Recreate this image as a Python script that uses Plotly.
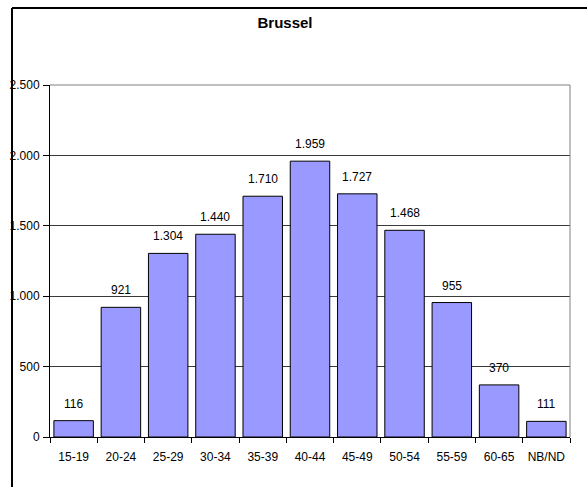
import plotly.graph_objects as go

categories = ["15-19", "20-24", "25-29", "30-34", "35-39", "40-44", "45-49", "50-54", "55-59", "60-65", "NB/ND"]
values = [116, 921, 1304, 1440, 1710, 1959, 1727, 1468, 955, 370, 111]
ytick_vals = [0, 500, 1000, 1500, 2000, 2500]
ytick_text = ["0", "500", "1.000", "1.500", "2.000", "2.500"]
title_text = "Brussel"


def fmt(v):
    return f"{v:,}".replace(",", ".")


FONT = "Liberation Sans, Arial, sans-serif"

fig = go.Figure()
fig.add_trace(go.Bar(
    x=categories,
    y=values,
    marker=dict(color="#9999FF", line=dict(color="#000000", width=1)),
    hoverinfo="x+y",
))

annotations = []
for c, v in zip(categories, values):
    annotations.append(dict(
        x=c, y=v, xref="x", yref="y", text=fmt(v), showarrow=False,
        yanchor="bottom", yshift=8, font=dict(family=FONT, size=12, color="#000"),
    ))

fig.update_layout(
    width=587, height=487,
    margin=dict(l=50, r=17, t=85, b=50),
    paper_bgcolor="white", plot_bgcolor="white",
    bargap=0.165,
    showlegend=False,
    font=dict(family=FONT, size=12, color="#000"),
    title=dict(text="<b>" + title_text + "</b>", x=285 / 587, xanchor="center",
               y=1 - 23 / 487, yanchor="middle", xref="container", yref="container",
               font=dict(family=FONT, size=15, color="#000")),
    annotations=annotations,
    xaxis=dict(
        showline=True, linecolor="#000", linewidth=1,
        ticks="outside", tickson="boundaries", ticklen=5, tickcolor="#000",
        ticklabelstandoff=9, tickangle=0, automargin=False,
        showgrid=False, tickfont=dict(family=FONT, size=12, color="#000"),
        fixedrange=True,
    ),
    yaxis=dict(
        range=[0, 2500], tickvals=ytick_vals, ticktext=ytick_text,
        showline=True, linecolor="#000", linewidth=1,
        ticks="outside", ticklen=6, tickcolor="#000",
        ticklabelstandoff=1, automargin=False,
        showgrid=True, gridcolor="#3a3a3a", gridwidth=1,
        zeroline=False, tickfont=dict(family=FONT, size=12, color="#000"),
        fixedrange=True,
    ),
    shapes=[
        # plot-area top and right borders (gray)
        dict(type="line", xref="paper", yref="paper", x0=0, x1=1, y0=1, y1=1,
             line=dict(color="#808080", width=1), layer="above"),
        dict(type="line", xref="paper", yref="paper", x0=1, x1=1, y0=0, y1=1,
             line=dict(color="#808080", width=1), layer="above"),
        # outer chart frame (top and left visible)
        dict(type="line", xref="paper", yref="paper",
             x0=(12 - 50) / 520, x1=(600 - 50) / 520,
             y0=(437 - 8) / 352, y1=(437 - 8) / 352,
             line=dict(color="#000", width=2), layer="above"),
        dict(type="line", xref="paper", yref="paper",
             x0=(12 - 50) / 520, x1=(12 - 50) / 520,
             y0=(437 - 8) / 352, y1=(437 - 500) / 352,
             line=dict(color="#000", width=2), layer="above"),
    ],
)

fig.write_html(
    "out.html",
    config={"displayModeBar": False},
    post_script="document.body.style.margin='0';document.body.style.overflow='hidden';",
)
